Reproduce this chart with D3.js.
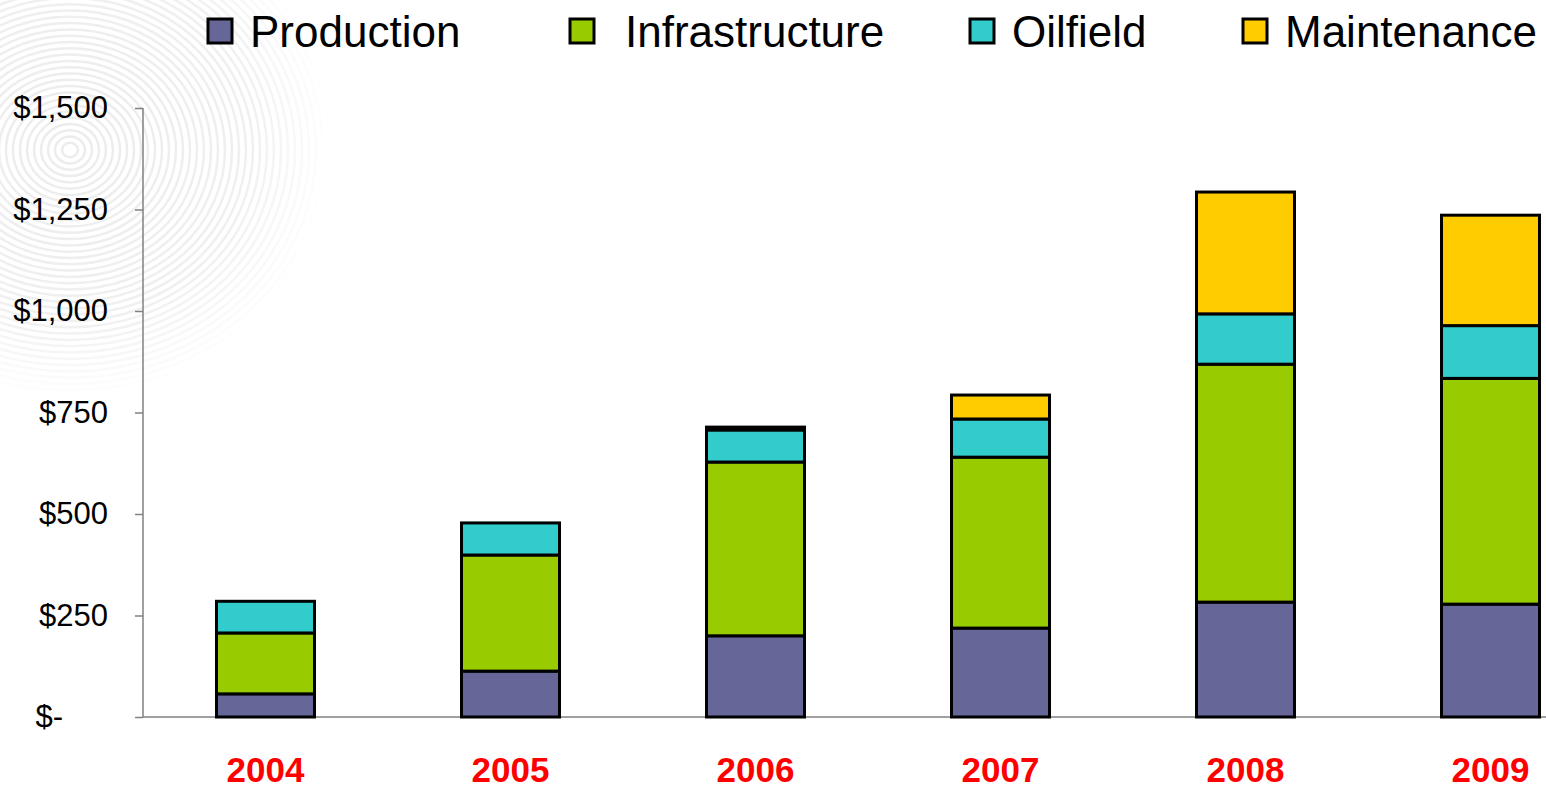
<!DOCTYPE html>
<html>
<head>
<meta charset="utf-8">
<script src="https://cdn.jsdelivr.net/npm/d3@7"></script>
<style>
  body { margin: 0; background: #fff; }
  svg { display: block; font-family: "Liberation Sans", Arial, sans-serif; }
</style>
</head>
<body>
<div class="chart-wrapper"></div>
<script>
// data
var years = ["2004", "2005", "2006", "2007", "2008", "2009"];
var production     = [57, 113, 200, 219, 283, 278];
var infrastructure = [150, 286, 428, 421, 586, 556];
var oilfield       = [78, 79, 79, 94, 124, 130];
var maintenance    = [0, 0, 7, 59, 300, 272];
var seriesNames = ["Production", "Infrastructure", "Oilfield", "Maintenance"];
var yTicks = [0, 250, 500, 750, 1000, 1250, 1500];

var colors = ["#666699", "#99CC00", "#33CCCC", "#FFCC00"];

var width = 1546, height = 790;

var svg = d3.select(".chart-wrapper").append("svg")
  .attr("width", width)
  .attr("height", height);

// faint fingerprint-like watermark top left
var defs = svg.append("defs");
var grad = defs.append("radialGradient").attr("id", "fade")
  .attr("cx", 70).attr("cy", 140).attr("r", 260)
  .attr("gradientUnits", "userSpaceOnUse");
grad.append("stop").attr("offset", "0%").attr("stop-color", "#fff").attr("stop-opacity", 1);
grad.append("stop").attr("offset", "70%").attr("stop-color", "#fff").attr("stop-opacity", 0.8);
grad.append("stop").attr("offset", "100%").attr("stop-color", "#fff").attr("stop-opacity", 0);
defs.append("mask").attr("id", "wm").append("rect")
  .attr("width", width).attr("height", height).attr("fill", "url(#fade)");
svg.append("g").attr("mask", "url(#wm)")
  .selectAll("ellipse")
  .data(d3.range(8, 270, 7))
  .enter().append("ellipse")
  .attr("cx", 70).attr("cy", 150)
  .attr("rx", function(r) { return r; })
  .attr("ry", function(r) { return r * 0.9; })
  .attr("fill", "none")
  .attr("stroke", "#ececec")
  .attr("stroke-width", 2.5);

// build the table for the stack
var table = years.map(function(y, i) {
  return {
    year: y,
    Production: production[i],
    Infrastructure: infrastructure[i],
    Oilfield: oilfield[i],
    Maintenance: maintenance[i]
  };
});

var x = d3.scaleBand()
  .domain(years)
  .range([143, 1613])
  .paddingInner(0.6)
  .paddingOuter(0.3);

var y = d3.scaleLinear()
  .domain([0, 1500])
  .range([717, 108]);

var stack = d3.stack().keys(seriesNames);
var layers = stack(table);

// axes
var yAxis = svg.append("g")
  .attr("transform", "translate(143,0)")
  .call(d3.axisLeft(y).tickValues(yTicks).tickSize(8).tickPadding(27)
    .tickFormat(function(d) { return d === 0 ? "$-" : "$" + d3.format(",")(d); }));
yAxis.select(".domain").attr("stroke", "#808080").attr("stroke-width", 1.5)
  .attr("d", "M0," + y(1500) + "V" + y(0));
yAxis.selectAll(".tick line").attr("stroke", "#808080").attr("stroke-width", 1.5);
yAxis.selectAll(".tick text")
  .attr("font-size", 31)
  .attr("fill", "#000")
  .attr("font-family", "Liberation Sans, Arial, sans-serif")
  .attr("dx", function(d) { return d === 0 ? -45 : 0; });

// baseline
svg.append("line")
  .attr("x1", 143).attr("x2", width)
  .attr("y1", y(0)).attr("y2", y(0))
  .attr("stroke", "#808080").attr("stroke-width", 1.5);

// bars
var groups = svg.selectAll(".layer")
  .data(layers)
  .enter().append("g")
  .attr("class", "layer")
  .attr("fill", function(d, i) { return colors[i]; });

groups.selectAll("rect")
  .data(function(d) { return d.filter(function(s) { return s[1] - s[0] > 0; }); })
  .enter().append("rect")
  .attr("x", function(d) { return x(d.data.year); })
  .attr("y", function(d) { return y(d[1]); })
  .attr("width", x.bandwidth())
  .attr("height", function(d) { return y(d[0]) - y(d[1]); })
  .attr("stroke", "#000")
  .attr("stroke-width", 3);

// year labels
svg.selectAll(".year")
  .data(years)
  .enter().append("text")
  .attr("class", "year")
  .attr("x", function(d) { return x(d) + x.bandwidth() / 2; })
  .attr("y", 782)
  .attr("text-anchor", "middle")
  .attr("font-size", 35)
  .attr("font-weight", "bold")
  .attr("fill", "#FF0000")
  .text(function(d) { return d; });

// legend
var legendX = [208, 570, 970, 1243];
var legend = svg.selectAll(".legend")
  .data(seriesNames)
  .enter().append("g")
  .attr("class", "legend")
  .attr("transform", function(d, i) { return "translate(" + legendX[i] + ",0)"; });

legend.append("rect")
  .attr("x", 0).attr("y", 19)
  .attr("width", 24).attr("height", 24)
  .attr("fill", function(d, i) { return colors[i]; })
  .attr("stroke", "#000")
  .attr("stroke-width", 3);

legend.append("text")
  .attr("x", function(d, i) { return i === 1 ? 55 : 42; })
  .attr("y", 47)
  .attr("font-size", 44)
  .attr("fill", "#000")
  .text(function(d) { return d; });
</script>
</body>
</html>
